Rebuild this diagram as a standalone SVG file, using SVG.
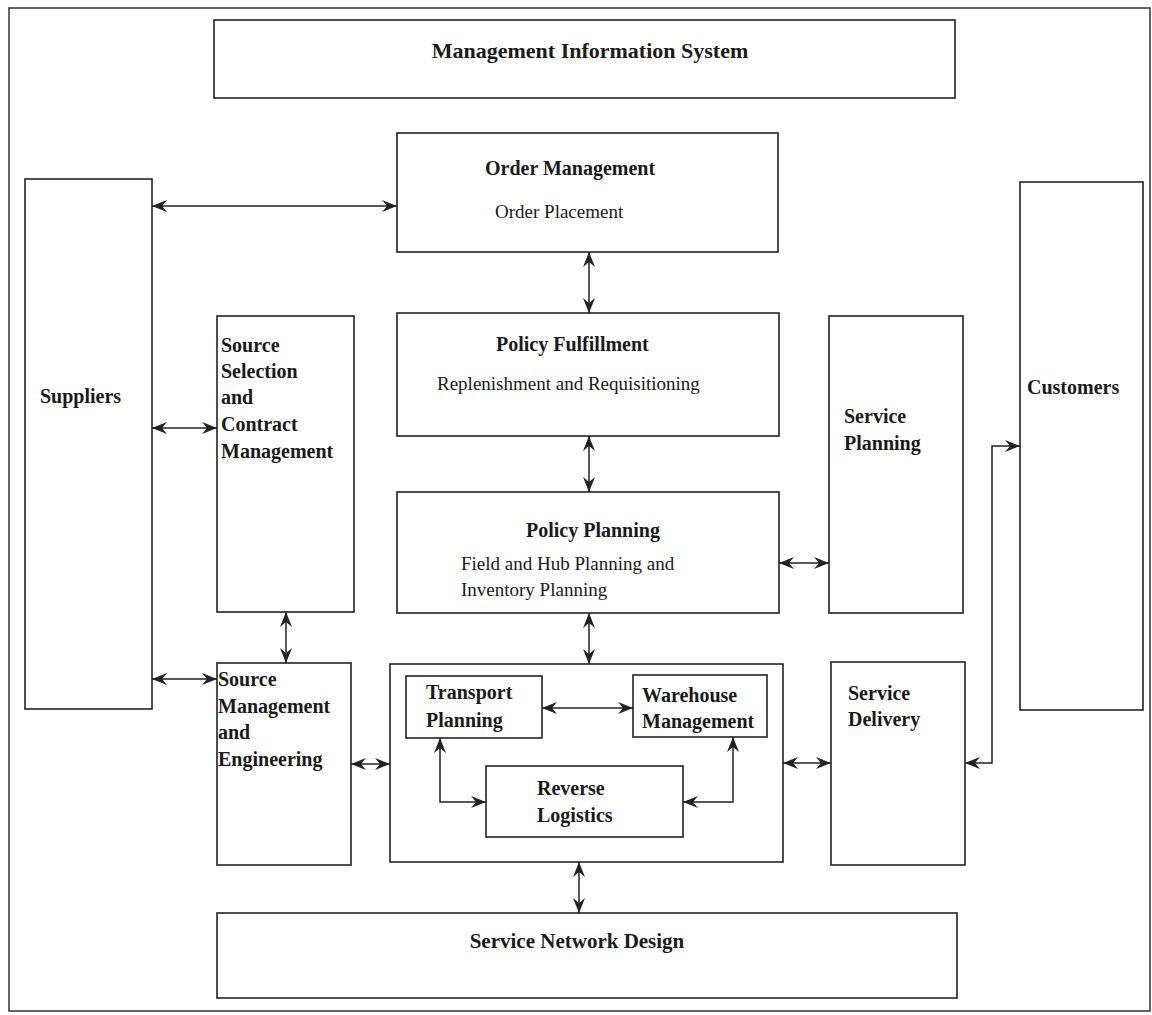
<svg xmlns="http://www.w3.org/2000/svg" width="1152" height="1015" viewBox="0 0 1152 1015">
<defs>
<marker id="ah" markerUnits="userSpaceOnUse" markerWidth="16" markerHeight="12" refX="15" refY="6" orient="auto-start-reverse" viewBox="0 0 16 12">
<path d="M0,0 L15,6 L0,12 L5,6 Z" fill="#222"/>
</marker>
</defs>
<style>
.box{fill:#fff;stroke:#222;stroke-width:1.6}
.frame{fill:#fff;stroke:#333;stroke-width:1.5}
.t{font-family:"Liberation Serif","Times New Roman",serif;font-weight:bold;font-size:20px;fill:#1a1a1a}
.s{font-family:"Liberation Serif","Times New Roman",serif;font-size:19px;fill:#1a1a1a}
.c{fill:none;stroke:#222;stroke-width:1.5;marker-start:url(#ah);marker-end:url(#ah)}
</style>
<rect class="frame" x="9" y="8" width="1141" height="1003"/>

<g id="mis"><rect class="box" x="214" y="20" width="741" height="78"/>
<text class="t" x="590" y="58" text-anchor="middle" style="font-size:22px">Management Information System</text></g>

<g id="order-management"><rect class="box" x="397" y="133" width="381" height="119"/>
<text class="t" x="485" y="175">Order Management</text>
<text class="s" x="495" y="218">Order Placement</text></g>

<g id="policy-fulfillment"><rect class="box" x="397" y="313" width="382" height="123"/>
<text class="t" x="496" y="351">Policy Fulfillment</text>
<text class="s" x="437" y="390">Replenishment and Requisitioning</text></g>

<g id="policy-planning"><rect class="box" x="397" y="492" width="382" height="121"/>
<text class="t" x="526" y="537">Policy Planning</text>
<text class="s" x="461" y="570">Field and Hub Planning and</text>
<text class="s" x="461" y="596">Inventory Planning</text></g>

<g id="suppliers"><rect class="box" x="25" y="179" width="127" height="530"/>
<text class="t" x="40" y="403">Suppliers</text></g>

<g id="source-selection"><rect class="box" x="217" y="316" width="137" height="296"/>
<text class="t" x="221" y="352">Source</text>
<text class="t" x="221" y="378">Selection</text>
<text class="t" x="221" y="404">and</text>
<text class="t" x="221" y="431">Contract</text>
<text class="t" x="221" y="458">Management</text></g>

<g id="source-management"><rect class="box" x="217" y="663" width="134" height="202"/>
<text class="t" x="218" y="686">Source</text>
<text class="t" x="218" y="713">Management</text>
<text class="t" x="218" y="739">and</text>
<text class="t" x="218" y="766">Engineering</text></g>

<g id="service-planning"><rect class="box" x="829" y="316" width="134" height="297"/>
<text class="t" x="844" y="423">Service</text>
<text class="t" x="844" y="450">Planning</text></g>

<g id="customers"><rect class="box" x="1020" y="182" width="123" height="528"/>
<text class="t" x="1027" y="394">Customers</text></g>

<g id="service-delivery"><rect class="box" x="831" y="662" width="134" height="203"/>
<text class="t" x="848" y="700">Service</text>
<text class="t" x="848" y="726">Delivery</text></g>

<g id="operations"><rect class="box" x="390" y="664" width="393" height="198"/></g>

<g id="transport-planning"><rect class="box" x="406" y="676" width="136" height="62"/>
<text class="t" x="426" y="699">Transport</text>
<text class="t" x="426" y="727">Planning</text></g>

<g id="warehouse-management"><rect class="box" x="633" y="675" width="134" height="62"/>
<text class="t" x="642" y="702">Warehouse</text>
<text class="t" x="642" y="728">Management</text></g>

<g id="reverse-logistics"><rect class="box" x="486" y="766" width="197" height="71"/>
<text class="t" x="537" y="795">Reverse</text>
<text class="t" x="537" y="822">Logistics</text></g>

<g id="service-network-design"><rect class="box" x="217" y="913" width="740" height="85"/>
<text class="t" x="577" y="948" text-anchor="middle" style="font-size:21px">Service Network Design</text></g>

<g id="connectors">
<line class="c" x1="152" y1="206" x2="397" y2="206"/>
<line class="c" x1="152" y1="428" x2="217" y2="428"/>
<line class="c" x1="152" y1="679" x2="217" y2="679"/>
<line class="c" x1="286" y1="612" x2="286" y2="663"/>
<line class="c" x1="351" y1="764" x2="390" y2="764"/>
<line class="c" x1="589" y1="252" x2="589" y2="313"/>
<line class="c" x1="589" y1="436" x2="589" y2="492"/>
<line class="c" x1="589" y1="613" x2="589" y2="664"/>
<line class="c" x1="579" y1="862" x2="579" y2="913"/>
<line class="c" x1="779" y1="563" x2="829" y2="563"/>
<line class="c" x1="783" y1="763" x2="831" y2="763"/>
<line class="c" x1="542" y1="708" x2="633" y2="708"/>
<polyline class="c" points="440,738 440,802 486,802"/>
<polyline class="c" points="733,737 733,802 683,802"/>
<polyline class="c" points="965,763 992,763 992,446 1020,446"/>
</g>
</svg>
